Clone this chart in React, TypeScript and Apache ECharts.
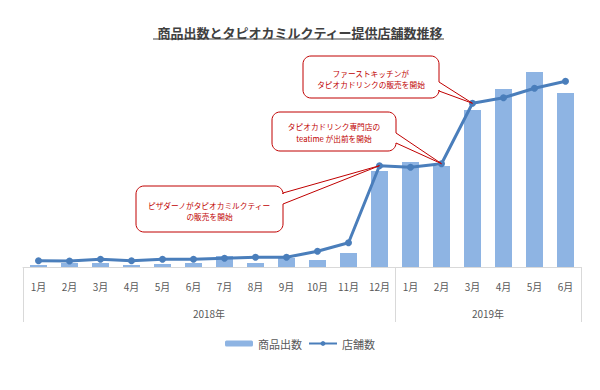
import React, { useEffect, useRef } from "react";
import * as echarts from "echarts";

const chartTitle = "商品出数とタピオカミルクティー提供店舗数推移";
const months = [
  "1月", "2月", "3月", "4月", "5月", "6月", "7月", "8月", "9月", "10月", "11月", "12月",
  "1月", "2月", "3月", "4月", "5月", "6月",
];
const years = ["2018年", "2019年"];
const monthsPerYear = [12, 6];
const seriesNames = ["商品出数", "店舗数"];
const productSales = [2, 4, 4, 2, 3, 4, 11, 4, 9, 7, 14, 96, 105, 101, 157, 178, 195, 174];
const storeCounts = [6.3, 6, 7.7, 6.3, 7.7, 7.7, 8.7, 9.7, 9.7, 15.7, 24.3, 101.3, 99.7, 103.3, 163.7, 169.3, 178.7, 185.7];
const calloutLines = [
  ["ピザダーノがタピオカミルクティー", "の販売を開始"],
  ["タピオカドリンク専門店の", "teatime が出前を開始"],
  ["ファーストキッチンが", "タピオカドリンクの販売を開始"],
];
const calloutPointIndex = [11, 13, 14];

// box layout for the callouts (x, y, w, h, wedge base y1..y2 on the right edge, text centre y)
const calloutBoxes = [
  { x: 136, y: 186, w: 147, h: 46, y1: 193, y2: 204, ty: 210.5, gap: 11 },
  { x: 272, y: 112, w: 124, h: 39, y1: 133, y2: 143, ty: 132, gap: 12 },
  { x: 303, y: 56, w: 136, h: 42, y1: 82, y2: 91, ty: 78.8, gap: 11 },
];

const FONT = '"Noto Sans CJK JP", "Noto Sans", sans-serif';
const RED = "#c00000";
const CALLOUT_FONT_SIZE = 7.7;

function calloutPoints(b: any, tip: number[]) {
  const r = 8;
  const pts: number[][] = [];
  const arc = (cx: number, cy: number, a0: number, a1: number) => {
    const n = 8;
    for (let i = 0; i <= n; i++) {
      const a = ((a0 + ((a1 - a0) * i) / n) * Math.PI) / 180;
      pts.push([cx + r * Math.cos(a), cy + r * Math.sin(a)]);
    }
  };
  const { x, y, w, h } = b;
  arc(x + w - r, y + r, -90, 0);
  pts.push([x + w, b.y1]);
  pts.push(tip);
  pts.push([x + w, b.y2]);
  arc(x + w - r, y + h - r, 0, 90);
  arc(x + r, y + h - r, 90, 180);
  arc(x + r, y + r, 180, 270);
  return pts;
}

function measure(text: string): number {
  const c = document.createElement("canvas").getContext("2d");
  if (!c) return text.length * CALLOUT_FONT_SIZE;
  c.font = `${CALLOUT_FONT_SIZE}px ${FONT}`;
  return c.measureText(text).width;
}

export default function App() {
  const ref = useRef<HTMLDivElement>(null);
  useEffect(() => {
    if (!ref.current) return;
    const chart = echarts.init(ref.current, undefined, { renderer: "svg" });
    const bounds: number[] = [0];
    monthsPerYear.forEach((c) => bounds.push(bounds[bounds.length - 1] + c));
    const centers = monthsPerYear.map((c, i) => bounds[i] + c / 2);
    chart.setOption({
      animation: false,
      backgroundColor: "#ffffff",
      textStyle: { fontFamily: FONT },
      title: {
        text: chartTitle,
        left: "center",
        top: 21,
        textStyle: { fontSize: 13, fontWeight: "bold", color: "#404040", fontFamily: FONT },
      },
      legend: {
        top: 333,
        left: "center",
        itemWidth: 28,
        itemHeight: 6,
        itemGap: 6,
        textStyle: { fontSize: 11, color: "#595959", fontFamily: FONT },
        data: [{ name: seriesNames[0] }, { name: seriesNames[1] }],
      },
      grid: { left: 23, right: 19, top: 67, bottom: 123, containLabel: false },
      xAxis: [
        {
          type: "category",
          data: months,
          boundaryGap: true,
          axisLine: { show: true, lineStyle: { color: "#d9d9d9", width: 1 } },
          axisTick: { show: false },
          axisLabel: { interval: 0, margin: 14, fontSize: 10, color: "#595959", fontFamily: FONT },
        },
        {
          type: "value",
          position: "bottom",
          min: 0,
          max: bounds[bounds.length - 1],
          axisLine: { show: false },
          splitLine: { show: false },
          axisTick: {
            show: true,
            customValues: bounds,
            length: 55,
            lineStyle: { color: "#d9d9d9", width: 1 },
          },
          axisLabel: {
            customValues: centers,
            margin: 41,
            fontSize: 10,
            color: "#595959",
            fontFamily: FONT,
            formatter: (v: number) => years[centers.indexOf(v)] ?? "",
          },
        },
      ],
      yAxis: [
        { type: "value", min: 0, max: 200, show: false },
        { type: "value", min: 0, max: 200, show: false },
      ],
      series: [
        {
          name: seriesNames[0],
          type: "bar",
          xAxisIndex: 0,
          yAxisIndex: 0,
          data: productSales,
          barWidth: 17,
          itemStyle: { color: "#8eb4e3" },
          z: 1,
        },
        {
          name: seriesNames[1],
          type: "line",
          xAxisIndex: 0,
          yAxisIndex: 1,
          data: storeCounts,
          symbol: "circle",
          symbolSize: 7,
          lineStyle: { color: "#4a7ebb", width: 3 },
          itemStyle: { color: "#4a7ebb" },
          z: 3,
        },
      ],
    });

    const graphics: any[] = [
      {
        type: "line",
        shape: { x1: 153, y1: 39, x2: 444, y2: 39 },
        style: { stroke: "#404040", lineWidth: 1 },
        z: 10,
      },
    ];
    calloutLines.forEach((lines, i) => {
      const idx = calloutPointIndex[i];
      const tip = chart.convertToPixel({ xAxisIndex: 0, yAxisIndex: 1 }, [idx, storeCounts[idx]]) as number[];
      const b = calloutBoxes[i];
      graphics.push({
        type: "polygon",
        shape: { points: calloutPoints(b, tip) },
        style: { fill: "#ffffff", stroke: RED, lineWidth: 1 },
        z: 20,
      });
      lines.forEach((t, j) => {
        const w = measure(t);
        graphics.push({
          type: "text",
          x: b.x + b.w / 2 - w / 2,
          y: b.ty + (j - (lines.length - 1) / 2) * b.gap,
          style: {
            text: t,
            align: "left",
            verticalAlign: "middle",
            fill: RED,
            fontSize: CALLOUT_FONT_SIZE,
            fontFamily: FONT,
          },
          z: 21,
        });
      });
    });
    chart.setOption({ graphic: graphics });

    return () => chart.dispose();
  }, []);
  return (
    <div
      ref={ref}
      style={{ position: "fixed", left: 0, top: 0, width: 600, height: 390 }}
    />
  );
}
